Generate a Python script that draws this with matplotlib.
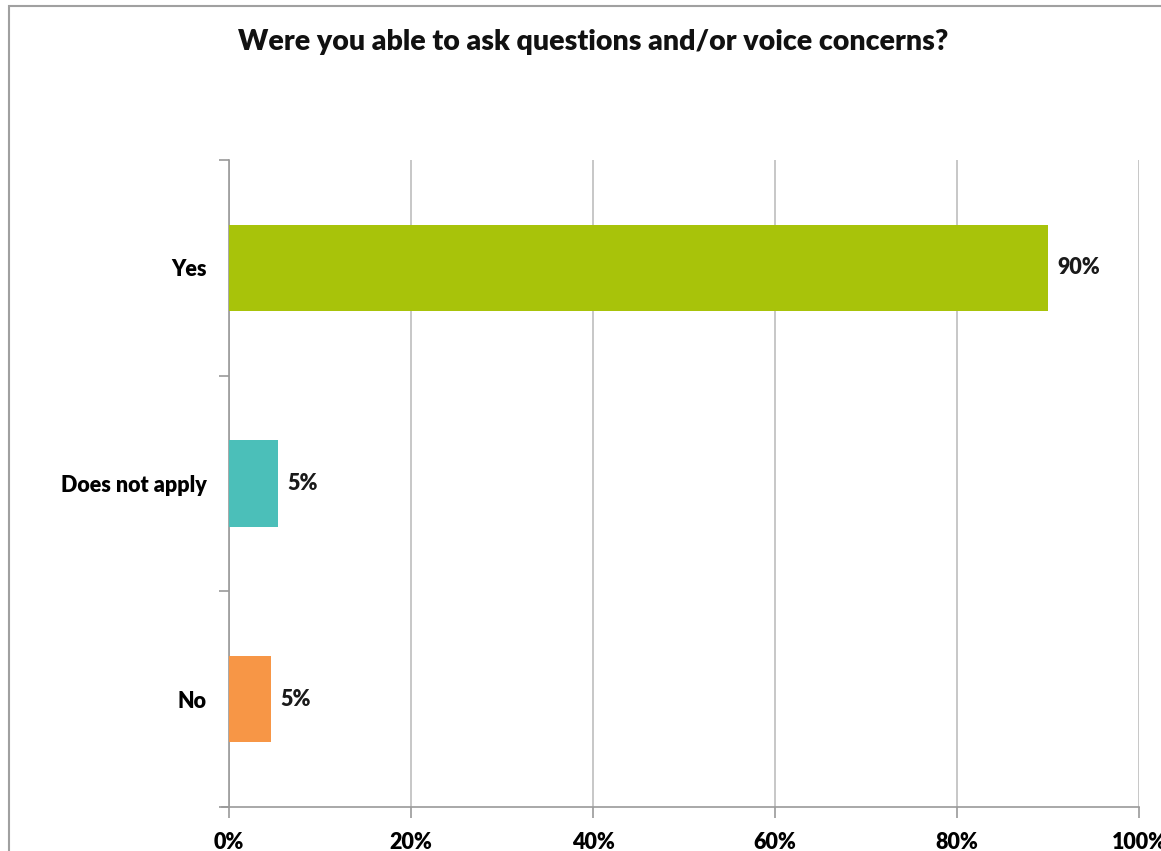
import matplotlib.pyplot as plt
from matplotlib.patches import Rectangle
from matplotlib.ticker import FixedLocator

categories = ["No", "Does not apply", "Yes"]
values = [4.6, 5.4, 90.0]
labels = ["5%", "5%", "90%"]
colors = ["#F79646", "#4BBFB9", "#A8C30A"]
xticks = [0, 20, 40, 60, 80, 100]

plt.rcParams['font.family'] = ['Lato', 'DejaVu Sans']

fig = plt.figure(figsize=(11.61, 8.51), dpi=100)
ax = fig.add_axes([229/1161, 44/851, 910/1161, 647/851])

ypos = list(range(len(categories)))
ax.barh(ypos, values, height=0.4, color=colors, zorder=3)
for y, v, t in zip(ypos, values, labels):
    ax.text(v + 1.0, y, t, va='center', ha='left', fontsize=15.5,
            fontweight='heavy', color='#1a1a1a', zorder=4)

ax.set_xlim(0, 100)
ax.set_ylim(-0.5, 2.5)
ax.set_xticks(xticks)
ax.set_xticklabels([f"{x}%" for x in xticks], fontsize=15.5, fontweight='heavy')
ax.tick_params(axis='x', length=8, width=1.2, color='#9a9a9a', pad=10)

ax.yaxis.set_major_locator(FixedLocator([-0.5, 0.5, 1.5, 2.5]))
ax.set_yticklabels([])
ax.yaxis.set_minor_locator(FixedLocator(ypos))
ax.set_yticklabels(categories, minor=True, fontsize=15.5, fontweight='heavy')
ax.tick_params(axis='y', which='major', length=7, width=1.2, color='#9a9a9a')
ax.tick_params(axis='y', which='minor', length=0, pad=16)

ax.grid(axis='x', color='#bdbdbd', linewidth=1.2, zorder=0)
for s in ['top', 'right']:
    ax.spines[s].set_visible(False)
for s in ['left', 'bottom']:
    ax.spines[s].set_color('#9a9a9a')
    ax.spines[s].set_linewidth(1.2)
ax.spines['bottom'].set_bounds(-0.8, 100)

fig.text(593/1161, 1 - 42/851, "Were you able to ask questions and/or voice concerns?",
         ha='center', va='center', fontsize=20.5, fontweight='heavy', color='#111111')

# outer chart border
fig.patches.append(Rectangle((9/1161, -0.1), 1.2, 1 - 6/851 + 0.1,
                             transform=fig.transFigure, fill=False,
                             edgecolor='#a0a0a0', linewidth=1.5))

fig.savefig("out.png", dpi=100)
